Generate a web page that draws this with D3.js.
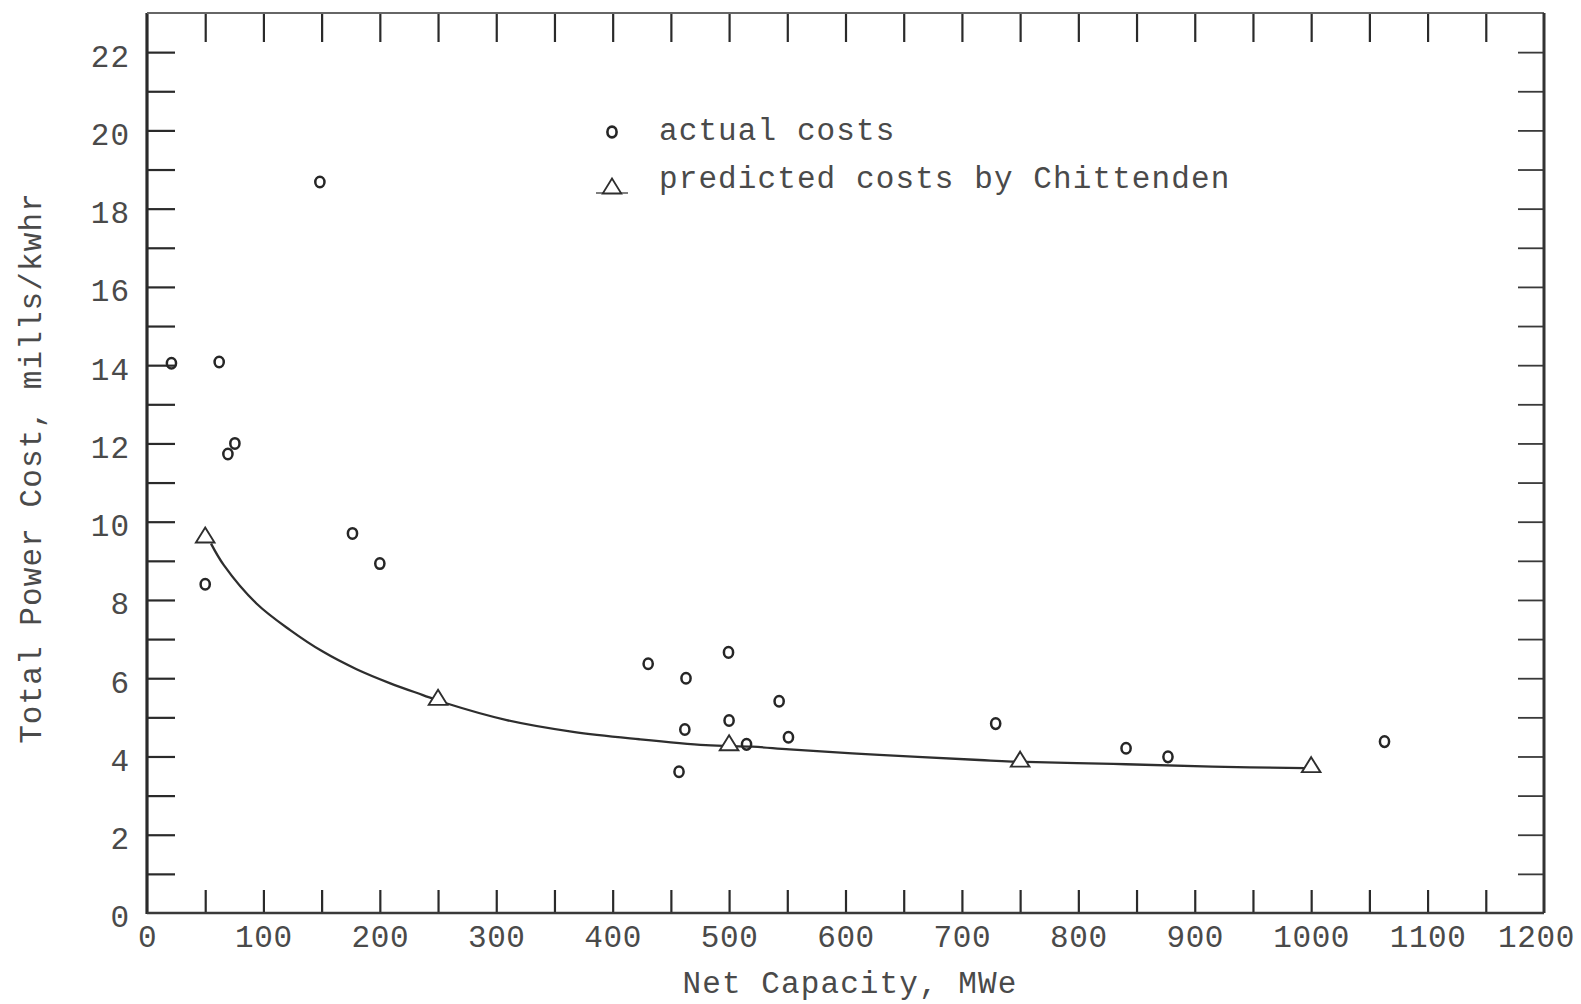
<!DOCTYPE html>
<html>
<head>
<meta charset="utf-8">
<script src="https://cdn.jsdelivr.net/npm/d3@7/dist/d3.min.js"></script>
<style>
  html, body { margin: 0; padding: 0; background: #ffffff; }
  svg { display: block; }
  text { font-family: "Liberation Mono", "Courier New", monospace; fill: #4a4a4a; }
</style>
</head>
<body>
<svg id="chart" width="1581" height="1004"></svg>
<script>
// ---- data ----
const actualX = [21, 62, 69.5, 75.5, 50, 148.5, 176.5, 200, 430.5, 463, 499.5, 543, 500, 462, 515, 551, 457, 729, 841, 877, 1063];
const actualY = [14.05, 14.08, 11.73, 12.0, 8.4, 18.68, 9.7, 8.93, 6.37, 6.0, 6.66, 5.41, 4.92, 4.69, 4.31, 4.49, 3.61, 4.84, 4.21, 3.99, 4.38];

const predX = [50, 250, 500, 750, 1000];
const predY = [9.61, 5.46, 4.30, 3.88, 3.74];

// hand-drawn curve through predicted costs
const curveX = [55, 66, 94, 123, 151, 180, 209, 237, 257, 309, 366, 423, 480, 520, 552, 629, 715, 743, 830, 915, 995];
const curveY = [9.44, 8.89, 7.91, 7.23, 6.68, 6.23, 5.87, 5.57, 5.36, 4.93, 4.63, 4.44, 4.29, 4.25, 4.18, 4.04, 3.91, 3.87, 3.81, 3.74, 3.70];

const xTickLabels = [0, 100, 200, 300, 400, 500, 600, 700, 800, 900, 1000, 1100, 1200];
const yTickLabels = [0, 2, 4, 6, 8, 10, 12, 14, 16, 18, 20, 22];
const xMinorTicks = d3.range(50, 1200, 50);
const yMinorTicks = d3.range(1, 23, 1);

const legendLabels = ["actual costs", "predicted costs by Chittenden"];
const xTitle = "Net Capacity, MWe";
const yTitle = "Total Power Cost, mills/kwhr";

// ---- layout ----
const L = 147, R = 1544, T = 13, B = 913;
const svg = d3.select("#chart");
const x = d3.scaleLinear().domain([0, 1200]).range([L, R]);
const y = d3.scaleLinear().domain([0, 23]).range([B, T]);
const ink = "#2a2a2a";
const FS = 31;

// inward tick marks
function styleTicks(g) {
  g.select(".domain").remove();
  g.selectAll(".tick line").attr("stroke", ink).attr("stroke-width", 2.2);
}
svg.append("g").attr("transform", `translate(0,${B})`)
  .call(d3.axisBottom(x).tickValues(xMinorTicks).tickSize(-23).tickFormat(""))
  .call(styleTicks);
svg.append("g").attr("transform", `translate(0,${T})`)
  .call(d3.axisTop(x).tickValues(xMinorTicks).tickSize(-29).tickFormat(""))
  .call(styleTicks);
svg.append("g").attr("transform", `translate(${L},0)`)
  .call(d3.axisLeft(y).tickValues(yMinorTicks).tickSize(-28).tickFormat(""))
  .call(styleTicks);
svg.append("g").attr("transform", `translate(${R},0)`)
  .call(d3.axisRight(y).tickValues(yMinorTicks).tickSize(-26).tickFormat(""))
  .call(g => { styleTicks(g); g.selectAll(".tick line").attr("stroke-width", 1.8).attr("stroke", "#3a3a3a"); });

// tick labels
const xl = svg.append("g").attr("transform", `translate(0,${B})`)
  .call(d3.axisBottom(x).tickValues(xTickLabels).tickSize(0).tickPadding(12).tickFormat(d3.format("d")));
xl.select(".domain").remove();
xl.selectAll("text").attr("font-size", FS).attr("font-family", null).attr("fill", "#4a4a4a")
  .style("letter-spacing", "0.6px")
  .attr("dx", d => d === 1200 ? -8 : 0);

const yl = svg.append("g").attr("transform", `translate(${L},0)`)
  .call(d3.axisLeft(y).tickValues(yTickLabels).tickSize(0).tickPadding(17).tickFormat(d3.format("d")));
yl.select(".domain").remove();
yl.selectAll("text").attr("font-size", FS).attr("font-family", null).attr("fill", "#4a4a4a")
  .attr("dy", "0.45em").style("letter-spacing", "1px");

// frame
svg.append("line").attr("x1", L).attr("x2", L).attr("y1", T).attr("y2", B + 1).attr("stroke", ink).attr("stroke-width", 3.2);
svg.append("line").attr("x1", L).attr("x2", R).attr("y1", B).attr("y2", B).attr("stroke", "#3a3a3a").attr("stroke-width", 2.6);
svg.append("line").attr("x1", L).attr("x2", R).attr("y1", T).attr("y2", T).attr("stroke", "#666").attr("stroke-width", 2.2);
svg.append("line").attr("x1", R).attr("x2", R).attr("y1", T).attr("y2", B).attr("stroke", "#333").attr("stroke-width", 3);

// curve
const curvePts = curveX.map((v, i) => [v, curveY[i]]);
svg.append("path")
  .datum(curvePts)
  .attr("fill", "none")
  .attr("stroke", "#2e2e2e")
  .attr("stroke-width", 2.3)
  .attr("d", d3.line().x(d => x(d[0])).y(d => y(d[1])).curve(d3.curveCatmullRom.alpha(0.5)));

// triangle marker path (shape only, centered on its point)
const triPath = "M0,-9.5 L9.3,5.5 L-9.3,5.5 Z";

svg.append("g").selectAll("path")
  .data(predX.map((v, i) => [v, predY[i]]))
  .join("path")
  .attr("d", triPath)
  .attr("transform", d => `translate(${x(d[0])},${y(d[1])})`)
  .attr("fill", "#ffffff")
  .attr("stroke", "#2e2e2e")
  .attr("stroke-width", 1.9);

// actual cost circles
svg.append("g").selectAll("ellipse")
  .data(actualX.map((v, i) => [v, actualY[i]]))
  .join("ellipse")
  .attr("cx", d => x(d[0]))
  .attr("cy", d => y(d[1]))
  .attr("rx", 4.6)
  .attr("ry", 5.3)
  .attr("fill", "none")
  .attr("stroke", "#262626")
  .attr("stroke-width", 2.5);

// legend
const lg = svg.append("g");
lg.append("ellipse").attr("cx", 612).attr("cy", 132).attr("rx", 4.6).attr("ry", 5.4)
  .attr("fill", "none").attr("stroke", "#262626").attr("stroke-width", 2.6);
lg.append("text").attr("x", 659).attr("y", 140).attr("font-size", FS).style("letter-spacing", "1.1px").text(legendLabels[0]);
lg.append("line").attr("x1", 596).attr("x2", 628).attr("y1", 193).attr("y2", 193).attr("stroke", "#555").attr("stroke-width", 1.5);
lg.append("path").attr("d", triPath).attr("transform", "translate(612,188)")
  .attr("fill", "#fff").attr("stroke", "#2e2e2e").attr("stroke-width", 1.8);
lg.append("text").attr("x", 659).attr("y", 188).attr("font-size", FS).style("letter-spacing", "1.1px").text(legendLabels[1]);

// axis titles
svg.append("text").attr("x", 850).attr("y", 993).attr("text-anchor", "middle")
  .attr("font-size", FS).style("letter-spacing", "1.1px").text(xTitle);
svg.append("text").attr("transform", "translate(41,468) rotate(-90)").attr("text-anchor", "middle")
  .attr("font-size", FS).style("letter-spacing", "1.1px").text(yTitle);
</script>
</body>
</html>
